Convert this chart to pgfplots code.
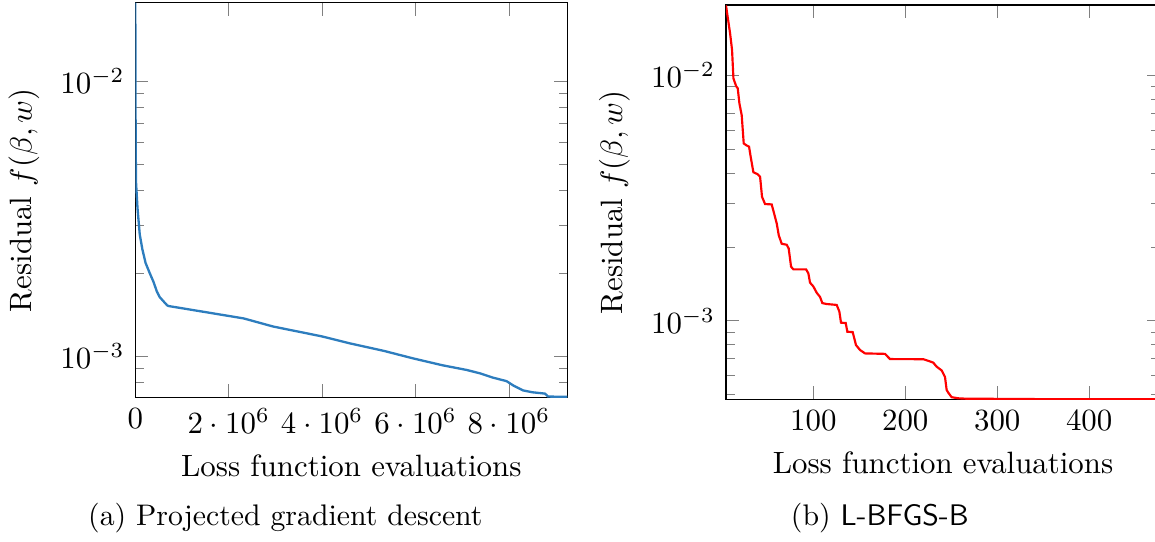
\documentclass[border=0pt]{standalone}
\usepackage{pgfplots}
\pgfplotsset{compat=1.18}
\definecolor{pgdblue}{RGB}{45,125,190}
\begin{document}
\begin{tikzpicture}
\useasboundingbox (0,0) rectangle (374.4pt,175.4pt);
\begin{axis}[
  at={(43.86pt,46.58pt)}, anchor=south west,
  scale only axis, width=140.03pt, height=127.91pt,
  ymode=log, xmin=0, xmax=9.25e6, ymin=7.07e-4, ymax=1.927e-2,
  scaled x ticks=false,
  xtick={0,2e6,4e6,6e6,8e6},
  xticklabels={$0$,$2\cdot 10^{6}$,$4\cdot 10^{6}$,$6\cdot 10^{6}$,$8\cdot 10^{6}$},
  xlabel={Loss function evaluations},
  ylabel={Residual $f(\beta,w)$},
]
\addplot[pgdblue, line width=0.75pt] coordinates {
(0,1.93e-2) (3e3,1.0e-2) (8e3,6.0e-3) (1.5e4,4.3e-3) (4.7e4,3.45e-3) (9.5e4,2.77e-3)
(1.5e5,2.45e-3) (2.2e5,2.18e-3) (3.1e5,2.0e-3) (3.9e5,1.86e-3) (4.6e5,1.72e-3)
(5.2e5,1.64e-3) (5.9e5,1.59e-3) (6.5e5,1.55e-3) (6.8e5,1.53e-3) (7.1e5,1.52e-3)
(2.32e6,1.37e-3) (2.95e6,1.28e-3) (3.98e6,1.18e-3) (4.61e6,1.11e-3) (5.32e6,1.044e-3)
(5.95e6,9.8e-4) (6.58e6,9.25e-4) (7.09e6,8.90e-4) (7.38e6,8.65e-4) (7.65e6,8.35e-4)
(7.95e6,8.10e-4) (8.1e6,7.8e-4) (8.3e6,7.5e-4) (8.5e6,7.38e-4) (8.77e6,7.30e-4)
(8.84e6,7.12e-4) (9.25e6,7.10e-4)
};
\end{axis}
\begin{axis}[
  at={(235.33pt,45.93pt)}, anchor=south west,
  scale only axis, width=140.68pt, height=127.81pt,
  ymode=log, xmin=5, xmax=477, ymin=4.78e-4, ymax=1.934e-2,
  xtick={100,200,300,400},
  xlabel={Loss function evaluations},
  ylabel={Residual $f(\beta,w)$},
]
\addplot[red, line width=0.7pt] coordinates {
(5,1.93e-2) (9.5,1.48e-2) (11.6,1.27e-2) (13.1,9.72e-3) (16.0,9.05e-3) (17.8,8.85e-3)
(19.6,7.69e-3) (22.1,6.88e-3) (24.3,5.28e-3) (26.8,5.20e-3) (30.1,5.12e-3) (31.9,4.65e-3)
(34.8,4.03e-3) (39.2,3.96e-3) (42.1,3.86e-3) (44.2,3.20e-3) (47.5,2.99e-3) (54.7,2.98e-3)
(57.3,2.74e-3) (60.2,2.49e-3) (62.4,2.23e-3) (65.6,2.06e-3) (71.1,2.04e-3) (73.2,1.97e-3)
(75.8,1.66e-3) (78.3,1.62e-3) (92.1,1.62e-3) (94.6,1.56e-3) (96.4,1.43e-3) (100,1.38e-3)
(103.7,1.30e-3) (107.3,1.25e-3) (109.8,1.18e-3) (114.5,1.17e-3) (125.4,1.16e-3)
(128.3,1.09e-3) (130.1,9.82e-4) (135.2,9.79e-4) (137.0,9.02e-4) (142.8,8.99e-4)
(146.4,7.96e-4) (150.8,7.60e-4) (156.2,7.36e-4) (177.9,7.33e-4) (183.4,6.98e-4)
(219.6,6.97e-4) (226.8,6.83e-4) (230.4,6.75e-4) (234.1,6.50e-4) (239.6,6.27e-4)
(243.2,5.90e-4) (245.0,5.22e-4) (246.8,5.09e-4) (250.4,4.88e-4) (257.6,4.83e-4)
(266.6,4.81e-4) (335,4.80e-4) (345,4.79e-4) (477,4.79e-4)
};
\end{axis}
\node[anchor=base, scale=0.965] at (92.5pt,5.19pt) {(a) Projected gradient descent};
\node[anchor=base, scale=0.965] at (285.2pt,5.19pt) {(b) \textsf{L-BFGS-B}};
\end{tikzpicture}
\end{document}
